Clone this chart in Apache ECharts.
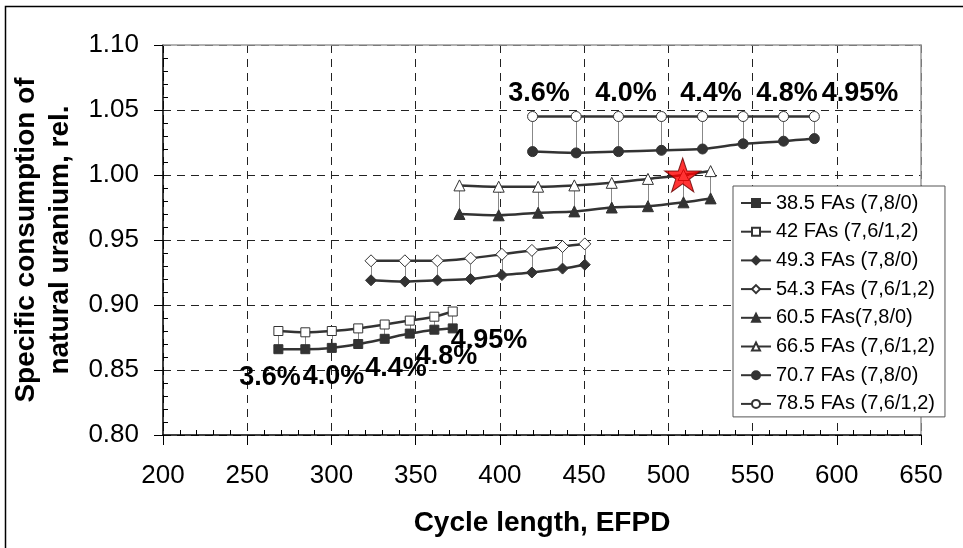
<!DOCTYPE html>
<html>
<head>
<meta charset="utf-8">
<script src="https://cdn.jsdelivr.net/npm/echarts@6/dist/echarts.min.js"></script>
<style>
  html, body { margin: 0; padding: 0; background: #fff; }
  #chart { width: 963px; height: 548px; }
</style>
</head>
<body>
<div id="chart"></div>
<script>
  // cycle length (EFPD) per group
  const x38 = [268.5, 284.5, 300.2, 315.9, 331.6, 346.5, 361.1, 372.0];
  const fa38_5 = [0.866, 0.866, 0.867, 0.870, 0.874, 0.878, 0.881, 0.882];
  const fa42 = [0.880, 0.879, 0.880, 0.882, 0.885, 0.888, 0.891, 0.895];

  const x49 = [323.5, 343.6, 362.9, 382.6, 401.2, 419.0, 437.2, 450.4];
  const fa49_3 = [0.919, 0.918, 0.919, 0.920, 0.923, 0.925, 0.928, 0.931];
  const fa54_3 = [0.934, 0.934, 0.934, 0.936, 0.939, 0.942, 0.945, 0.947];

  const x60 = [376.0, 399.3, 422.7, 444.2, 466.4, 487.9, 509.0, 525.1];
  const fa60_5 = [0.970, 0.969, 0.971, 0.972, 0.975, 0.976, 0.979, 0.982];
  const fa66_5 = [0.992, 0.991, 0.991, 0.992, 0.994, 0.997, 1.000, 1.003];

  const x70 = [419.4, 445.3, 470.4, 495.9, 520.3, 544.4, 568.4, 586.7];
  const fa70_7 = [1.018, 1.017, 1.018, 1.019, 1.020, 1.024, 1.026, 1.028];
  const fa78_5 = [1.045, 1.045, 1.045, 1.045, 1.045, 1.045, 1.045, 1.045];

  const starPoint = [508.5, 1.0];

  // enrichment annotations
  const enrichLabels = ['3.6%', '4.0%', '4.4%', '4.8%', '4.95%'];
  const topLabelX = [423.2, 474.9, 525.3, 570.5, 613.8];
  const topLabelY = [1.0625, 1.0625, 1.0625, 1.0625, 1.0625];
  const lowLabelX = [263.5, 301.2, 338.3, 368.3, 393.5];
  const lowLabelY = [0.8442, 0.8446, 0.8512, 0.8600, 0.8723];

  const xTicks = [200, 250, 300, 350, 400, 450, 500, 550, 600, 650];

  const dark = '#333333';
  const font = 'Liberation Sans, Arial, sans-serif';

  function pairs(xs, ys) {
    return xs.map((x, i) => [x, ys[i]]);
  }

  function drops(xs, low, high) {
    return xs.map((x, i) => [
      {coord: [x, low[i]], symbol: 'none'},
      {coord: [x, high[i]], symbol: 'none'}
    ]);
  }

  function lineSeries(name, xs, ys, symbol, size, open, dropLow) {
    const s = {
      type: 'line',
      name: name,
      data: pairs(xs, ys),
      smooth: 0.3,
      symbol: symbol,
      symbolSize: size,
      showAllSymbol: true,
      lineStyle: {color: dark, width: 2.5},
      itemStyle: open
        ? {color: '#ffffff', borderColor: dark, borderWidth: 1}
        : {color: dark, borderColor: dark, borderWidth: 1},
      z: open ? 4 : 3
    };
    if (dropLow) {
      s.markLine = {
        silent: true,
        symbol: 'none',
        label: {show: false},
        lineStyle: {color: '#888888', width: 1, type: 'solid'},
        data: drops(xs, dropLow, ys),
        z: 2
      };
    }
    return s;
  }

  function labelSeries(xs, ys) {
    return {
      type: 'scatter',
      silent: true,
      symbolSize: 0,
      itemStyle: {color: '#000000'},
      data: xs.map((x, i) => ({value: [x, ys[i]], name: enrichLabels[i]})),
      label: {
        show: true,
        position: 'inside',
        formatter: p => p.name,
        fontFamily: font,
        fontWeight: 'bold',
        fontSize: 27,
        color: '#000000',
        textBorderWidth: 0,
        opacity: 1
      },
      z: 6
    };
  }

  const legendNames = [
    '38.5 FAs (7,8/0)',
    '42 FAs (7,6/1,2)',
    '49.3 FAs (7,8/0)',
    '54.3 FAs (7,6/1,2)',
    '60.5 FAs(7,8/0)',
    '66.5 FAs (7,6/1,2)',
    '70.7 FAs (7,8/0)',
    '78.5 FAs (7,6/1,2)'
  ];

  const starPath = 'path://M50,0 L61.8,35.1 L98.9,35.1 L68.8,56.9 L80.2,91.9 L50,70.2 L19.8,91.9 L31.2,56.9 L1.1,35.1 L38.2,35.1 Z';

  const chart = echarts.init(document.getElementById('chart'));

  const option = {
    animation: false,
    backgroundColor: '#ffffff',
    textStyle: {fontFamily: font},
    graphic: [{
      type: 'rect',
      shape: {x: 5.5, y: 6.5, width: 1000, height: 600},
      style: {fill: 'none', stroke: '#000', lineWidth: 1.5},
      silent: true
    }],
    grid: {left: 163, top: 45, right: 42, bottom: 113},
    legend: {
      orient: 'vertical',
      left: 733,
      top: 186,
      padding: [7, 10, 3, 7],
      itemWidth: 30,
      itemHeight: 10,
      itemGap: 8.7,
      backgroundColor: '#ffffff',
      borderColor: '#555555',
      borderWidth: 1,
      data: legendNames,
      textStyle: {fontFamily: font, fontSize: 20, color: '#000'}
    },
    xAxis: [{
      type: 'value',
      min: 200,
      max: 650,
      interval: 50,
      name: 'Cycle length, EFPD',
      nameLocation: 'middle',
      nameGap: 74,
      nameTextStyle: {fontFamily: font, fontSize: 28, fontWeight: 'bold', color: '#000'},
      axisLine: {show: true, lineStyle: {color: '#000', width: 1.5}},
      axisTick: {show: true, length: 10, lineStyle: {color: '#000'}},
      minorTick: {show: true, splitNumber: 5, length: -5, lineStyle: {color: '#000'}},
      axisLabel: {
        fontFamily: font, fontSize: 26, color: '#000', margin: 28,
        formatter: v => xTicks.indexOf(v) >= 0 ? String(v) : ''
      },
      splitLine: {show: true, lineStyle: {color: '#222', type: [8, 6], width: 1}}
    }, {
      type: 'value',
      min: 200,
      max: 650,
      position: 'top',
      axisLine: {show: true, lineStyle: {color: '#999', width: 1.5}},
      axisTick: {show: false},
      axisLabel: {show: false},
      splitLine: {show: false}
    }],
    yAxis: [{
      type: 'value',
      min: 0.8,
      max: 1.1,
      interval: 0.05,
      name: 'Specific consumption of\nnatural uranium, rel.',
      nameLocation: 'middle',
      nameGap: 76,
      nameTextStyle: {fontFamily: font, fontSize: 28, fontWeight: 'bold', color: '#000', lineHeight: 34},
      axisLine: {show: true, lineStyle: {color: '#000', width: 1.5}},
      axisTick: {show: true, length: 9, lineStyle: {color: '#000'}},
      minorTick: {show: true, splitNumber: 5, length: -5, lineStyle: {color: '#000'}},
      axisLabel: {
        fontFamily: font, fontSize: 26, color: '#000', margin: 24,
        formatter: v => v.toFixed(2)
      },
      splitLine: {show: true, lineStyle: {color: '#222', type: [8, 6], width: 1}}
    }, {
      type: 'value',
      min: 0.8,
      max: 1.1,
      position: 'right',
      axisLine: {show: true, lineStyle: {color: '#999', width: 1.5}},
      axisTick: {show: false},
      axisLabel: {show: false},
      splitLine: {show: false}
    }],
    series: [
      lineSeries(legendNames[0], x38, fa38_5, 'rect', 9, false),
      lineSeries(legendNames[1], x38, fa42, 'rect', 9, true, fa38_5),
      lineSeries(legendNames[2], x49, fa49_3, 'diamond', 11, false),
      lineSeries(legendNames[3], x49, fa54_3, 'diamond', 12, true, fa49_3),
      lineSeries(legendNames[4], x60, fa60_5, 'triangle', 11, false),
      lineSeries(legendNames[5], x60, fa66_5, 'triangle', 11, true, fa60_5),
      lineSeries(legendNames[6], x70, fa70_7, 'circle', 10, false),
      lineSeries(legendNames[7], x70, fa78_5, 'circle', 10, true, fa70_7),
      {
        type: 'scatter',
        silent: true,
        data: [starPoint],
        symbol: starPath,
        symbolSize: [36, 34],
        itemStyle: {color: '#ff0000', borderColor: '#660000', borderWidth: 1},
        z: 7
      },
      labelSeries(topLabelX, topLabelY),
      labelSeries(lowLabelX, lowLabelY)
    ]
  };

  chart.setOption(option);
</script>
</body>
</html>
